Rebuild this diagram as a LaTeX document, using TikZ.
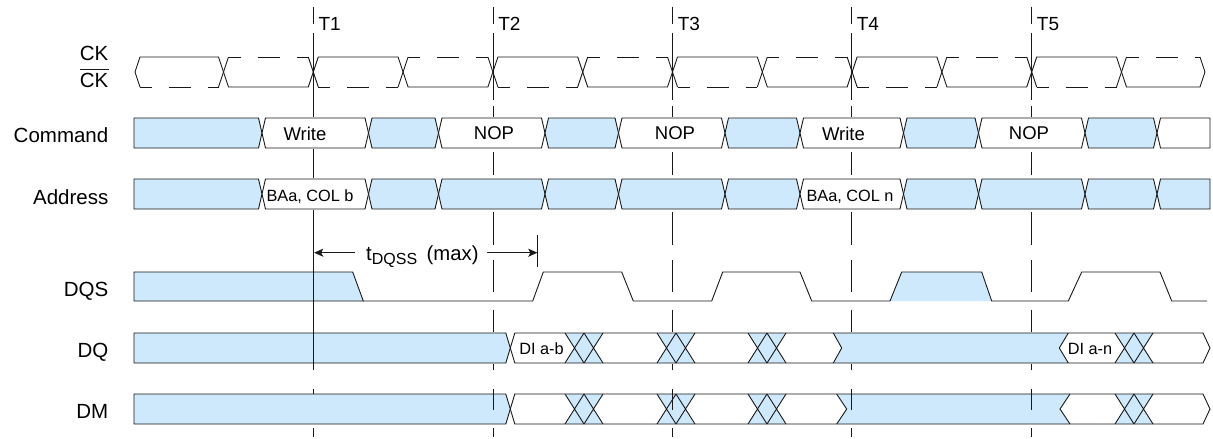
\documentclass[tikz,border=0pt]{standalone}
\usepackage{fontspec}
\setmainfont{Liberation Sans}
\usetikzlibrary{arrows.meta}
\definecolor{busblue}{RGB}{207,233,252}
\definecolor{ink}{RGB}{25,25,25}
\newcommand\busHex[5]{%
  \filldraw[bus, fill=#1] ({#2+3.5},#4) -- ({#3-3.5},#4) -- (#3,{(#4+#5)/2}) -- ({#3-3.5},#5) -- ({#2+3.5},#5) -- (#2,{(#4+#5)/2}) -- cycle;}
\newcommand\busXXfill[3]{%
  \fill[busblue] (#1,#2) -- ({#1+38},#2) -- ({#1+28.5},{(#2+#3)/2}) -- ({#1+38},#3) -- (#1,#3) -- ({#1+9.5},{(#2+#3)/2}) -- cycle;}
\newcommand\busXXline[3]{%
  \draw[bus] (#1,#2) -- ({#1+19},#3) (#1,#3) -- ({#1+19},#2) ({#1+19},#2) -- ({#1+38},#3) ({#1+19},#3) -- ({#1+38},#2);}
\begin{document}
\begin{tikzpicture}[x=1pt,y=-1pt,
  bus/.style={draw=ink, line width=0.9pt, line join=miter},
  ckdash/.style={draw=ink, line width=0.9pt, dash pattern=on 12pt off 17pt on 22pt off 17pt},
  tmark/.style={draw=ink, line width=0.9pt},
  lab/.style={font=\fontsize{20.5}{24}\selectfont, inner sep=0pt, anchor=base east, text=black},
  cmd/.style={font=\fontsize{18.5}{22}\selectfont, inner sep=0pt, text=black},
  small/.style={font=\fontsize{16.3}{20}\selectfont, inner sep=0pt, anchor=base, text=black},
  tlab/.style={font=\fontsize{19}{22}\selectfont, inner sep=0pt, anchor=base west, text=black},
  arr/.style={draw=ink, line width=0.9pt, -{Stealth[length=9pt,width=8pt,inset=2pt]}}
]
\useasboundingbox (0,0) rectangle (1213,439);
\fill[white] (0,0) rectangle (1213,439);

% ---------------- CK / CK# ----------------
\draw[bus] (135,72) -- (140,57) -- (218.5,57) -- (228.5,87) -- (308.3,87) -- (318.3,57) -- (398.1,57) -- (408.1,87) -- (487.9,87) -- (497.9,57) -- (577.7,57) -- (587.7,87) -- (667.5,87) -- (677.5,57) -- (757.3,57) -- (767.3,87) -- (847.1,87) -- (857.1,57) -- (936.9,57) -- (946.9,87) -- (1026.7,87) -- (1036.7,57) -- (1116.5,57) -- (1126.5,87) -- (1200,87) -- (1205,72);
\draw[bus] (135,72) -- (140,87) (218.5,87) -- (228.5,57) (308.3,57) -- (318.3,87) (398.1,87) -- (408.1,57) (487.9,57) -- (497.9,87) (577.7,87) -- (587.7,57) (667.5,57) -- (677.5,87) (757.3,87) -- (767.3,57) (847.1,57) -- (857.1,87) (936.9,87) -- (946.9,57) (1026.7,57) -- (1036.7,87) (1116.5,87) -- (1126.5,57) (1200,57) -- (1205,72);
\foreach \xa/\xb/\yy in {140/218.5/87, 228.5/308.3/57, 318.3/398.1/87, 408.1/487.9/57, 497.9/577.7/87, 587.7/667.5/57, 677.5/757.3/87, 767.3/847.1/57, 857.1/936.9/87, 946.9/1026.7/57, 1036.7/1116.5/87, 1126.5/1200/57}
  {\draw[ckdash] (\xa,\yy) -- (\xb,\yy);}

% ---------------- Command ----------------
\filldraw[bus, fill=busblue] (134,118) -- (258.5,118) -- (262,133) -- (258.5,148) -- (134,148) -- cycle;
\foreach \xa/\xb/\col in {262/368.5/white, 368.5/438.5/busblue, 438.5/545/white, 545/618.5/busblue, 618.5/725/white, 725/800/busblue, 800/903.5/white, 903.5/978.5/busblue, 978.5/1085/white, 1085/1157/busblue}
  {\busHex{\col}{\xa}{\xb}{118}{148}}
\filldraw[bus, fill=white] (1157,133) -- (1160.5,118) -- (1210,118) -- (1210,148) -- (1160.5,148) -- cycle;

% ---------------- Address ----------------
\filldraw[bus, fill=busblue] (134,179) -- (258.5,179) -- (262,194) -- (258.5,209) -- (134,209) -- cycle;
\foreach \xa/\xb/\col in {262/368.5/white, 368.5/438.5/busblue, 438.5/545/busblue, 545/618.5/busblue, 618.5/725/busblue, 725/800/busblue, 800/903.5/white, 903.5/978.5/busblue, 978.5/1085/busblue, 1085/1157/busblue}
  {\busHex{\col}{\xa}{\xb}{179}{209}}
\filldraw[bus, fill=busblue] (1157,194) -- (1160.5,179) -- (1210,179) -- (1210,209) -- (1160.5,209) -- cycle;

% ---------------- DQS ----------------
\filldraw[bus, fill=busblue] (134,301) -- (134,272) -- (352.7,272) -- (363.3,301) -- cycle;
\fill[busblue] (890,301) -- (901.7,272) -- (981.7,272) -- (991.7,301) -- cycle;
\draw[bus] (363.3,301) -- (532.7,301) -- (543.3,272) -- (621.7,272) -- (633.3,301) -- (711.7,301) -- (722.7,272) -- (800,272) -- (811.7,301) -- (890,301) -- (901.7,272) -- (981.7,272) -- (991.7,301) -- (1068.3,301) -- (1081.7,272) -- (1160,272) -- (1171.7,301) -- (1207,301);

% ---------------- DQ ----------------
\fill[busblue] (134,333) -- (505.8,333) -- (510.3,348) -- (505.8,363) -- (134,363) -- cycle;
\fill[busblue] (833.3,333) -- (1068.3,333) -- (1059.3,348) -- (1068.3,363) -- (833.3,363) -- (841.7,348) -- cycle;
\foreach \xa in {565,657,748,1115} {\busXXfill{\xa}{333}{363}}
\draw[bus] (505.8,333) -- (134,333) -- (134,363) -- (505.8,363) -- (510.3,348) -- cycle;
\draw[bus] (510.3,348) -- (514.8,333) -- (1203,333) -- (1210,348) -- (1203,363) -- (514.8,363) -- cycle;
\draw[bus] (833.3,333) -- (841.7,348) -- (833.3,363);
\draw[bus] (1068.3,333) -- (1059.3,348) -- (1068.3,363);
\foreach \xa in {565,657,748,1115} {\busXXline{\xa}{333}{363}}

% ---------------- DM ----------------
\fill[busblue] (134,394) -- (505.8,394) -- (510.3,409) -- (505.8,424) -- (134,424) -- cycle;
\fill[busblue] (836.7,394) -- (1070,394) -- (1060,409) -- (1070,424) -- (836.7,424) -- (846.7,409) -- cycle;
\foreach \xa in {565,657,748,1115} {\busXXfill{\xa}{394}{424}}
\draw[bus] (505.8,394) -- (134,394) -- (134,424) -- (505.8,424) -- (510.3,409) -- cycle;
\draw[bus] (510.3,409) -- (514.8,394) -- (1203,394) -- (1210,409) -- (1203,424) -- (514.8,424) -- cycle;
\draw[bus] (836.7,394) -- (846.7,409) -- (836.7,424);
\draw[bus] (1070,394) -- (1060,409) -- (1070,424);
\foreach \xa in {565,657,748,1115} {\busXXline{\xa}{394}{424}}

% ---------------- clock reference lines ----------------
\foreach \t in {493.1,672.6,851.6,1031.7}{
  \foreach \ya/\yb in {7/24, 33/100, 106/117, 152/175, 212/245, 260/292, 310/332, 364/370, 389/410, 428/437}
    {\draw[tmark] (\t,\ya) -- (\t,\yb);}
}
\foreach \ya/\yb in {7/24, 33/117, 149/178, 210/370, 389/394, 428/437}
  {\draw[tmark] (313.3,\ya) -- (313.3,\yb);}

% ---------------- labels ----------------
\node[tlab] (t1) at (318.3,30) {T1};
\node[tlab] (t2) at (498.1,30) {T2};
\node[tlab] (t3) at (677.6,30) {T3};
\node[tlab] (t4) at (856.6,30) {T4};
\node[tlab] (t5) at (1036.7,30) {T5};

\node[lab] (ck) at (108.5,60) {CK};
\node[lab] (ckb) at (108.5,87) {CK};
\draw[ink, line width=1pt] ([shift={(0,-3.3)}]ckb.north west) -- ([shift={(0,-3.3)}]ckb.north east);
\node[lab] (lcmd) at (108.5,142) {Command};
\node[lab] (laddr) at (108.5,204) {Address};
\node[lab] (ldqs) at (108.5,296.7) {DQS};
\node[lab] (ldq) at (108.5,357.7) {DQ};
\node[lab] (ldm) at (108.5,418.3) {DM};

\node[cmd] (c1) at (305,133.5) {Write};
\node[cmd] (c2) at (494,133.5) {NOP};
\node[cmd] (c3) at (675,133.5) {NOP};
\node[cmd] (c4) at (843.5,133.5) {Write};
\node[cmd] (c5) at (1029,133.5) {NOP};

\node[small] (a1) at (310,201.5) {BAa, COL b};
\node[small] (a2) at (850,201.5) {BAa, COL n};

\node[small] (d1) at (541.5,354) {DI a-b};
\node[small] (d2) at (1090,354) {DI a-n};

% ---------------- tDQSS ----------------
\node[font=\fontsize{20.3}{24}\selectfont, inner sep=0pt, anchor=base west, text=black] (tq) at (366,260) {t\raisebox{-4.5pt}{\fontsize{16}{16}\selectfont DQSS}\hspace{9.5pt}(max)};
\coordinate (qlstart) at (355,252.7);
\coordinate (qltip) at (314.2,252.7);
\coordinate (qrstart) at (487,252.7);
\coordinate (qrtip) at (537.3,252.7);
\draw[arr] (qlstart) -- (qltip);
\draw[arr] (qrstart) -- (qrtip);
\coordinate (qvtop) at (537.3,235);
\coordinate (qvbot) at (537.3,267);
\draw[tmark] (qvtop) -- (qvbot);
\end{tikzpicture}
\end{document}
